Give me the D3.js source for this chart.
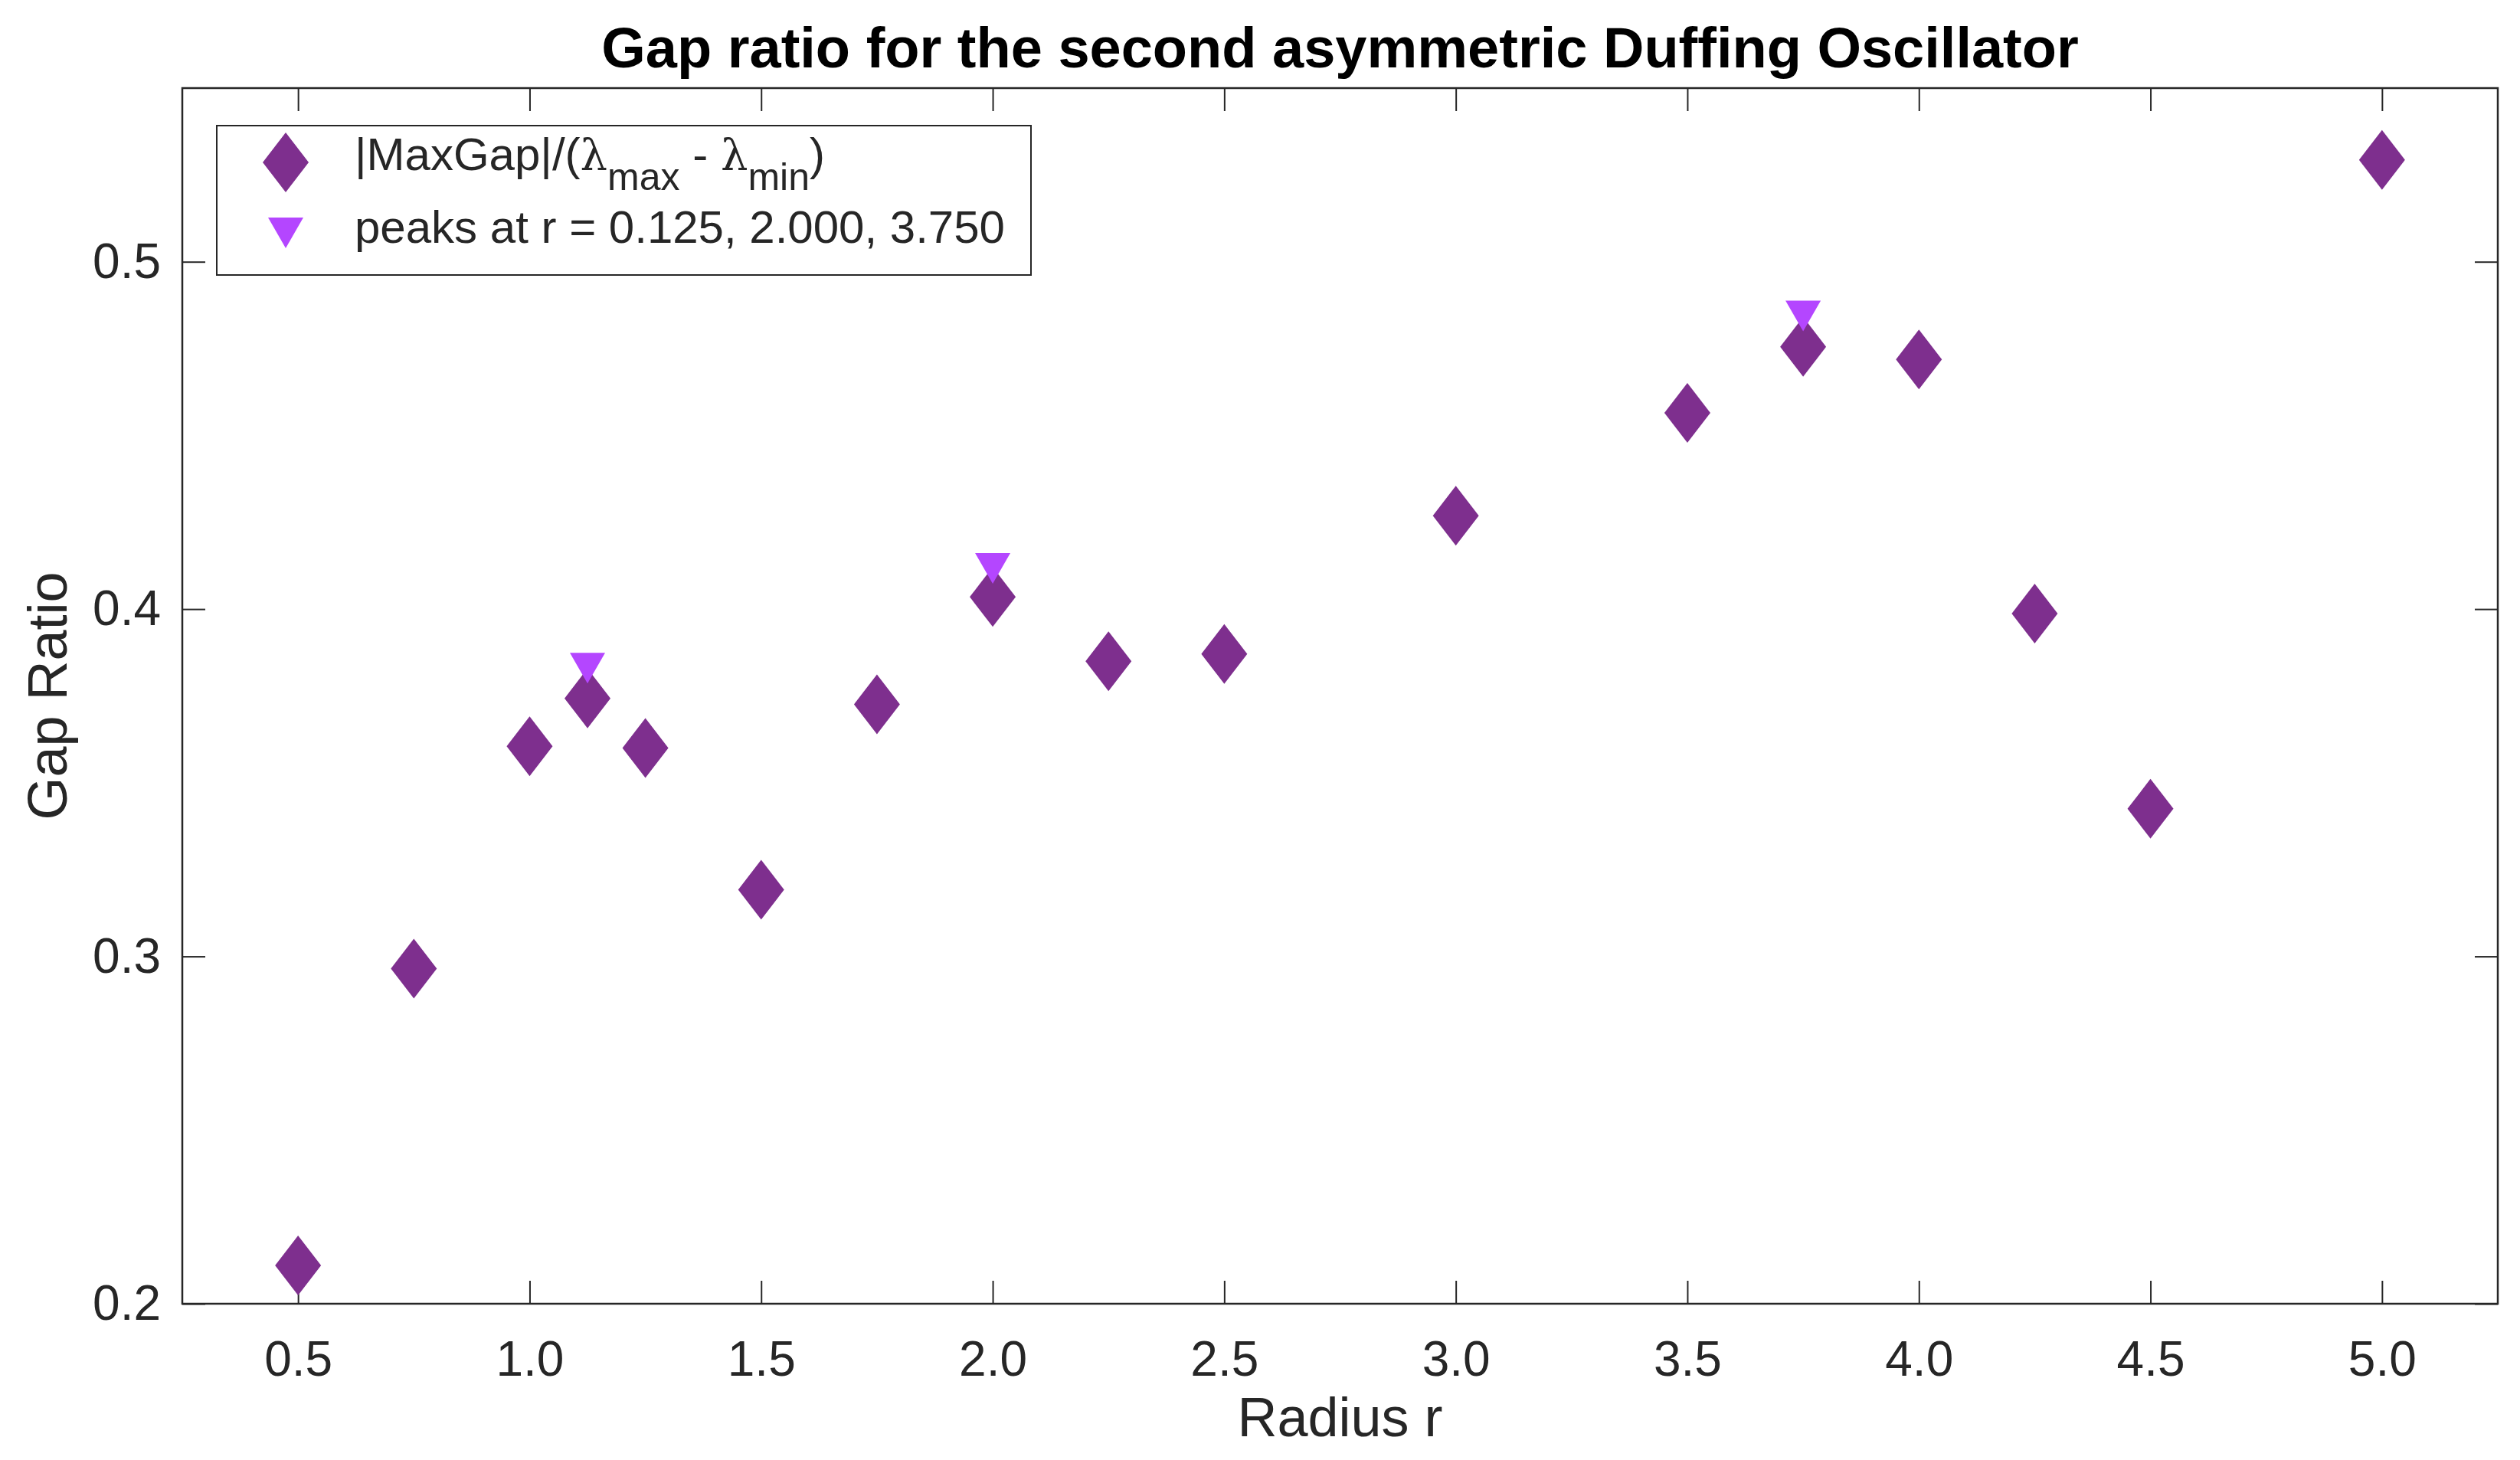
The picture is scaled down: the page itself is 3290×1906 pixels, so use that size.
<!DOCTYPE html>
<html>
<head>
<meta charset="utf-8">
<script src="https://cdn.jsdelivr.net/npm/d3@7"></script>
<style>
  html, body { margin: 0; padding: 0; background: #fff; }
  #chart { width: 3290px; height: 1906px; }
  text { font-family: "Liberation Sans", Arial, Helvetica, sans-serif; fill: #262626; }
</style>
</head>
<body>
<div id="chart"></div>
<script>
// Data
const radius = [0.5, 0.75, 1.0, 1.125, 1.25, 1.5, 1.75, 2.0, 2.25, 2.5, 3.0, 3.5, 3.75, 4.0, 4.25, 4.5, 5.0];
const gapRatio = [0.211, 0.2965, 0.3605, 0.3743, 0.360, 0.3192, 0.3726, 0.4035, 0.385, 0.3871, 0.4269, 0.4565, 0.4755, 0.4719, 0.3987, 0.3425, 0.5293];
const peakRadius = [1.125, 2.0, 3.75];
const peakRatio = [0.383, 0.4117, 0.4844];
const xTicks = [0.5, 1.0, 1.5, 2.0, 2.5, 3.0, 3.5, 4.0, 4.5, 5.0];
const yTicks = [0.2, 0.3, 0.4, 0.5];

(function () {
  ///////////////////////////////////////////////////////////// ! Setup
  const fullWidth = 3290;
  const fullHeight = 1906;
  const margin = { top: 115, right: 29, bottom: 204, left: 238 };
  const width = fullWidth - margin.left - margin.right;
  const height = fullHeight - margin.top - margin.bottom;

  const axisColor = "#262626";
  const diamondColor = "#7E2F8E";
  const peakColor = "#B446FF";

  const svg = d3
    .select("#chart")
    .append("svg")
    .attr("width", fullWidth)
    .attr("height", fullHeight)
    .style("display", "block");

  const g = svg
    .append("g")
    .attr("transform", `translate(${margin.left},${margin.top})`);

  ///////////////////////////////////////////////////////////// ! Scales
  const xScale = d3.scaleLinear().domain([0.25, 5.25]).range([0, width]);
  const yScale = d3.scaleLinear().domain([0.2, 0.55]).range([height, 0]);

  ///////////////////////////////////////////////////////////// ! Axes (MATLAB style box, inward ticks)
  const tickLen = 30;

  function styleAxis(sel) {
    sel.select(".domain").remove();
    sel.selectAll(".tick line").attr("stroke", axisColor).attr("stroke-width", 2);
    sel.selectAll(".tick text")
      .style("font-family", '"Liberation Sans", Arial, sans-serif')
      .style("font-size", "64px")
      .attr("fill", axisColor);
  }

  g.append("g")
    .attr("transform", `translate(0,${height})`)
    .call(d3.axisBottom(xScale).tickValues(xTicks).tickFormat(d3.format(".1f"))
      .tickSizeInner(-tickLen).tickSizeOuter(0).tickPadding(49))
    .call(styleAxis);

  g.append("g")
    .call(d3.axisTop(xScale).tickValues(xTicks).tickFormat("")
      .tickSizeInner(-tickLen).tickSizeOuter(0))
    .call(styleAxis);

  g.append("g")
    .call(d3.axisLeft(yScale).tickValues(yTicks).tickFormat(d3.format(".1f"))
      .tickSizeInner(-tickLen).tickSizeOuter(0).tickPadding(28))
    .call(styleAxis);

  g.append("g")
    .attr("transform", `translate(${width},0)`)
    .call(d3.axisRight(yScale).tickValues(yTicks).tickFormat("")
      .tickSizeInner(-tickLen).tickSizeOuter(0))
    .call(styleAxis);

  // Box
  g.append("rect")
    .attr("x", 0)
    .attr("y", 0)
    .attr("width", width)
    .attr("height", height)
    .attr("fill", "none")
    .attr("stroke", axisColor)
    .attr("stroke-width", 2.5);

  ///////////////////////////////////////////////////////////// ! Labels
  svg.append("text")
    .attr("x", margin.left + width / 2)
    .attr("y", 88)
    .attr("text-anchor", "middle")
    .style("font-size", "74px")
    .style("font-weight", "bold")
    .style("fill", "#000")
    .text("Gap ratio for the second asymmetric Duffing Oscillator");

  svg.append("text")
    .attr("x", margin.left + width / 2)
    .attr("y", 1875)
    .attr("text-anchor", "middle")
    .style("font-size", "72px")
    .text("Radius r");

  svg.append("text")
    .attr("transform", `translate(87,${margin.top + height / 2}) rotate(-90)`)
    .attr("text-anchor", "middle")
    .style("font-size", "72px")
    .text("Gap Ratio");

  ///////////////////////////////////////////////////////////// ! Markers
  const diamondPath = "M0,-39L30,0L0,39L-30,0Z";
  const trianglePath = "M-23,-20L23,-20L0,20Z";

  g.selectAll(".diamond")
    .data(d3.zip(radius, gapRatio))
    .enter()
    .append("path")
    .attr("class", "diamond")
    .attr("d", diamondPath)
    .attr("transform", (d) => `translate(${xScale(d[0])},${yScale(d[1])})`)
    .attr("fill", diamondColor);

  g.selectAll(".peak")
    .data(d3.zip(peakRadius, peakRatio))
    .enter()
    .append("path")
    .attr("class", "peak")
    .attr("d", trianglePath)
    .attr("transform", (d) => `translate(${xScale(d[0])},${yScale(d[1])})`)
    .attr("fill", peakColor);

  ///////////////////////////////////////////////////////////// ! Legend
  const legend = svg.append("g").attr("transform", "translate(283,164)");

  legend.append("rect")
    .attr("width", 1063)
    .attr("height", 195)
    .attr("fill", "#fff")
    .attr("stroke", axisColor)
    .attr("stroke-width", 2);

  legend.append("path")
    .attr("d", diamondPath)
    .attr("transform", "translate(90,48)")
    .attr("fill", diamondColor);

  legend.append("path")
    .attr("d", trianglePath)
    .attr("transform", "translate(90,140)")
    .attr("fill", peakColor);

  const line1 = legend.append("text")
    .attr("x", 180)
    .attr("y", 58)
    .style("font-size", "60px");
  line1.append("tspan").text("|MaxGap|/(");
  line1.append("tspan").style("font-family", '"DejaVu Serif", serif').style("font-size", "56px").text("λ");
  line1.append("tspan").attr("dy", 26).style("font-size", "50px").text("max");
  line1.append("tspan").attr("dy", -26).text(" - ");
  line1.append("tspan").style("font-family", '"DejaVu Serif", serif').style("font-size", "56px").text("λ");
  line1.append("tspan").attr("dy", 26).style("font-size", "50px").text("min");
  line1.append("tspan").attr("dy", -26).text(")");

  legend.append("text")
    .attr("x", 180)
    .attr("y", 153)
    .style("font-size", "60px")
    .text("peaks at r = 0.125, 2.000, 3.750");
})();
</script>
</body>
</html>
